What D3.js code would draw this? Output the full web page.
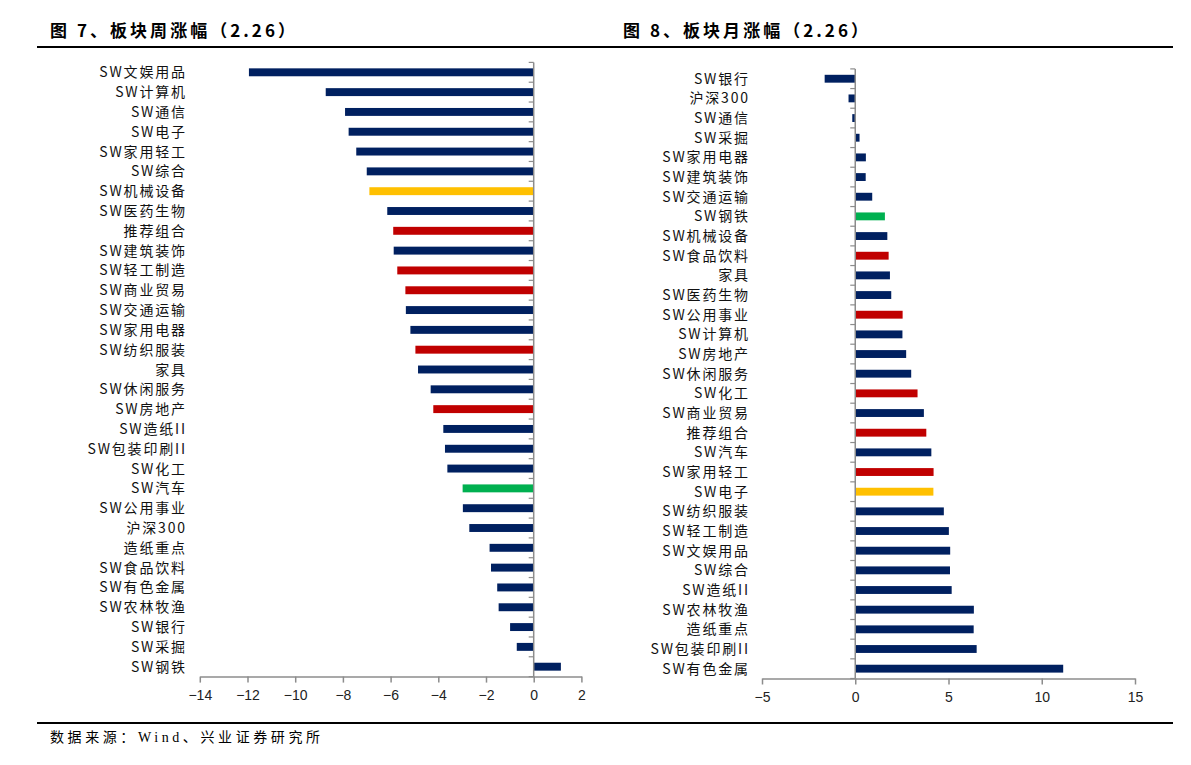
<!DOCTYPE html>
<html>
<head>
<meta charset="utf-8">
<script src="https://cdn.jsdelivr.net/npm/d3@7"></script>
<style>
  html, body { margin: 0; padding: 0; background: #fff; }
  svg { display: block; }
</style>
</head>
<body>
<svg id="chart" width="1191" height="765"></svg>
<script>
// ---------- DATA ----------
const weekCategories = ["SW文娱用品","SW计算机","SW通信","SW电子","SW家用轻工","SW综合","SW机械设备","SW医药生物","推荐组合","SW建筑装饰","SW轻工制造","SW商业贸易","SW交通运输","SW家用电器","SW纺织服装","家具","SW休闲服务","SW房地产","SW造纸II","SW包装印刷II","SW化工","SW汽车","SW公用事业","沪深300","造纸重点","SW食品饮料","SW有色金属","SW农林牧渔","SW银行","SW采掘","SW钢铁"];
const weekValues = [-11.94,-8.72,-7.91,-7.76,-7.44,-7.00,-6.89,-6.14,-5.89,-5.87,-5.72,-5.38,-5.36,-5.17,-4.96,-4.85,-4.32,-4.21,-3.79,-3.72,-3.62,-2.98,-2.97,-2.70,-1.85,-1.79,-1.53,-1.47,-0.99,-0.71,1.14];
const weekColorKeys = ["n","n","n","n","n","n","y","n","r","n","r","r","n","n","r","n","n","r","n","n","n","g","n","n","n","n","n","n","n","n","n"];
const weekTicks = [-14,-12,-10,-8,-6,-4,-2,0,2];

const monthCategories = ["SW银行","沪深300","SW通信","SW采掘","SW家用电器","SW建筑装饰","SW交通运输","SW钢铁","SW机械设备","SW食品饮料","家具","SW医药生物","SW公用事业","SW计算机","SW房地产","SW休闲服务","SW化工","SW商业贸易","推荐组合","SW汽车","SW家用轻工","SW电子","SW纺织服装","SW轻工制造","SW文娱用品","SW综合","SW造纸II","SW农林牧渔","造纸重点","SW包装印刷II","SW有色金属"];
const monthValues = [-1.64,-0.36,-0.16,0.23,0.57,0.56,0.91,1.59,1.72,1.79,1.86,1.93,2.54,2.53,2.73,3.00,3.34,3.68,3.81,4.08,4.20,4.19,4.75,5.02,5.09,5.08,5.17,6.36,6.35,6.51,11.15];
const monthColorKeys = ["n","n","n","n","n","n","n","g","n","r","n","n","r","n","n","n","r","n","r","n","r","y","n","n","n","n","n","n","n","n","n"];
const monthTicks = [-5,0,5,10,15];

const titleLeft = "图 7、板块周涨幅（2.26）";
const titleRight = "图 8、板块月涨幅（2.26）";
const sourceText = "数据来源：Wind、兴业证券研究所";

// ---------- STYLE ----------
const palette = { n: "#002060", r: "#C00000", y: "#FFC000", g: "#00B050" };
const cjk = "'Noto Sans CJK SC', 'Noto Sans', sans-serif";
const num = "'Liberation Sans', Arial, sans-serif";
const axisColor = "#8c8c8c";

const svg = d3.select("#chart");

// Titles and rules
svg.append("text").attr("x", 50).attr("y", 37)
  .attr("font-family", cjk).attr("font-weight", "bold").attr("font-size", 17)
  .attr("textLength", 245).attr("lengthAdjust", "spacing")
  .text(titleLeft);
svg.append("text").attr("x", 623).attr("y", 37)
  .attr("font-family", cjk).attr("font-weight", "bold").attr("font-size", 17)
  .attr("textLength", 245).attr("lengthAdjust", "spacing")
  .text(titleRight);
svg.append("line").attr("x1", 37).attr("x2", 1173).attr("y1", 47).attr("y2", 47)
  .attr("stroke", "#000").attr("stroke-width", 2);
svg.append("line").attr("x1", 37).attr("x2", 1173).attr("y1", 723).attr("y2", 723)
  .attr("stroke", "#000").attr("stroke-width", 2);
svg.append("text").attr("x", 50).attr("y", 742)
  .attr("font-family", "'Liberation Serif', 'Noto Sans CJK SC', serif").attr("font-size", 14)
  .attr("textLength", 270).attr("lengthAdjust", "spacing")
  .text(sourceText);

function drawPanel(opts) {
  const { cats, vals, keys, ticks, xRange, yRange, labelRight } = opts;
  const x = d3.scaleLinear().domain([ticks[0], ticks[ticks.length - 1]]).range(xRange);
  const y = d3.scaleBand().domain(cats).range(yRange).paddingInner(0.6).paddingOuter(0.3);
  const step = y.step();
  const g = svg.append("g");

  // bars
  g.selectAll("rect.bar").data(cats).join("rect")
    .attr("class", "bar")
    .attr("x", (c, i) => x(Math.min(0, vals[i])))
    .attr("width", (c, i) => Math.abs(x(vals[i]) - x(0)))
    .attr("y", c => y(c))
    .attr("height", y.bandwidth())
    .attr("fill", (c, i) => palette[keys[i]]);

  // value axis
  const axis = d3.axisBottom(x).tickValues(ticks).tickSize(6).tickSizeOuter(0)
    .tickFormat(d3.format("d"));
  const ag = g.append("g").attr("transform", `translate(0,${yRange[1]})`).call(axis);
  ag.select(".domain").attr("stroke", axisColor).attr("stroke-width", 1.5);
  ag.selectAll(".tick line").attr("stroke", axisColor).attr("stroke-width", 1.5);
  ag.selectAll(".tick text").attr("font-family", num).attr("font-size", 14)
    .attr("fill", "#222").attr("dy", "1.05em");

  // category axis at zero
  const x0 = x(0);
  g.append("line").attr("x1", x0).attr("x2", x0)
    .attr("y1", yRange[0]).attr("y2", yRange[1])
    .attr("stroke", axisColor).attr("stroke-width", 1.5);
  const bounds = cats.map(c => y(c) - y.paddingOuter() * step + (step * y.paddingInner()) / 2 - step * 0.0);
  const tickYs = d3.range(cats.length + 1).map(i => yRange[0] + i * ((yRange[1] - yRange[0]) / cats.length));
  g.selectAll("line.ctick").data(tickYs).join("line").attr("class", "ctick")
    .attr("x1", x0 - 5).attr("x2", x0).attr("y1", d => d).attr("y2", d => d)
    .attr("stroke", axisColor).attr("stroke-width", 1.2);

  // category labels
  const ls = 1.8;
  g.selectAll("text.cat").data(cats).join("text").attr("class", "cat")
    .attr("x", labelRight + ls)
    .attr("y", c => y(c) + y.bandwidth() / 2)
    .attr("dy", "0.36em")
    .attr("text-anchor", "end")
    .attr("font-family", cjk).attr("font-size", 14)
    .attr("letter-spacing", ls)
    .attr("fill", "#111")
    .text(c => c);
}

drawPanel({
  cats: weekCategories, vals: weekValues, keys: weekColorKeys, ticks: weekTicks,
  xRange: [199.8, 581.4], yRange: [62.4, 676.6], labelRight: 185
});
drawPanel({
  cats: monthCategories, vals: monthValues, keys: monthColorKeys, ticks: monthTicks,
  xRange: [762, 1135], yRange: [68.9, 678.5], labelRight: 748
});
</script>
</body>
</html>
